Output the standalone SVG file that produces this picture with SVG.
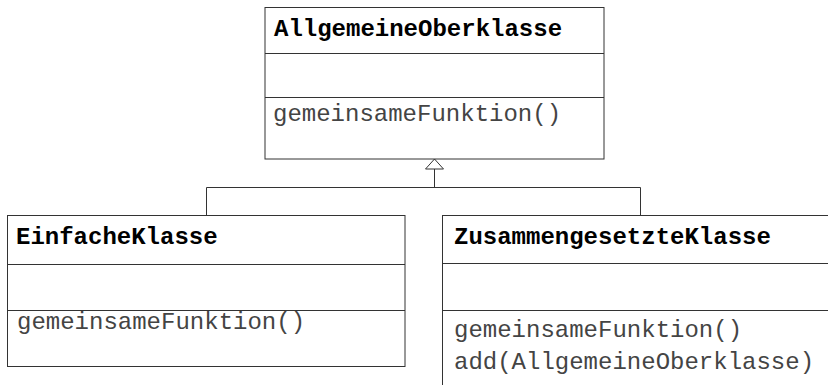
<svg xmlns="http://www.w3.org/2000/svg" width="828" height="385" viewBox="0 0 828 385">
<style>
.box{fill:#fff;stroke:#333;stroke-width:1}
.ln{stroke:#333;stroke-width:1;fill:none}
.t{font-family:"Liberation Mono","Courier New",monospace;font-size:24px;font-weight:bold;fill:#000}
.m{font-family:"Liberation Mono","Courier New",monospace;font-size:24px;fill:#444}
</style>
<defs>
<marker id="gen" markerWidth="14" markerHeight="22" refX="11" refY="10" orient="auto" markerUnits="userSpaceOnUse" viewBox="0 0 14 22" overflow="visible">
<path d="M1,1 L11,10 L1,19 Z" fill="#fff" stroke="#333" stroke-width="1"/>
</marker>
</defs>
<rect width="828" height="385" fill="#fff"/>
<g id="connectors">
<polyline class="ln" points="206.5,215.5 206.5,187.5 640.5,187.5 640.5,215.5"/>
<line class="ln" x1="434.5" y1="187.5" x2="434.5" y2="159" marker-end="url(#gen)"/>
</g>
<g id="AllgemeineOberklasse">
<rect class="box" x="265" y="7.5" width="339" height="151.5"/>
<line class="ln" x1="265" y1="53.5" x2="604" y2="53.5"/>
<line class="ln" x1="265" y1="97.5" x2="604" y2="97.5"/>
<text class="t" x="274" y="36">AllgemeineOberklasse</text>
<text class="m" x="273" y="121">gemeinsameFunktion()</text>
</g>
<g id="EinfacheKlasse">
<rect class="box" x="7.5" y="215.5" width="397.5" height="151"/>
<line class="ln" x1="7.5" y1="264.5" x2="405" y2="264.5"/>
<line class="ln" x1="7.5" y1="310.5" x2="405" y2="310.5"/>
<text class="t" x="16" y="243.5">EinfacheKlasse</text>
<text class="m" x="17" y="329">gemeinsameFunktion()</text>
</g>
<g id="ZusammengesetzteKlasse">
<rect class="box" x="442.5" y="215.5" width="400" height="180"/>
<line class="ln" x1="442.5" y1="263.5" x2="828" y2="263.5"/>
<line class="ln" x1="442.5" y1="310.5" x2="828" y2="310.5"/>
<text class="t" x="454" y="243.5">ZusammengesetzteKlasse</text>
<text class="m" x="454" y="337">gemeinsameFunktion()</text>
<text class="m" x="454" y="368.5">add(AllgemeineOberklasse)</text>
</g>
</svg>
